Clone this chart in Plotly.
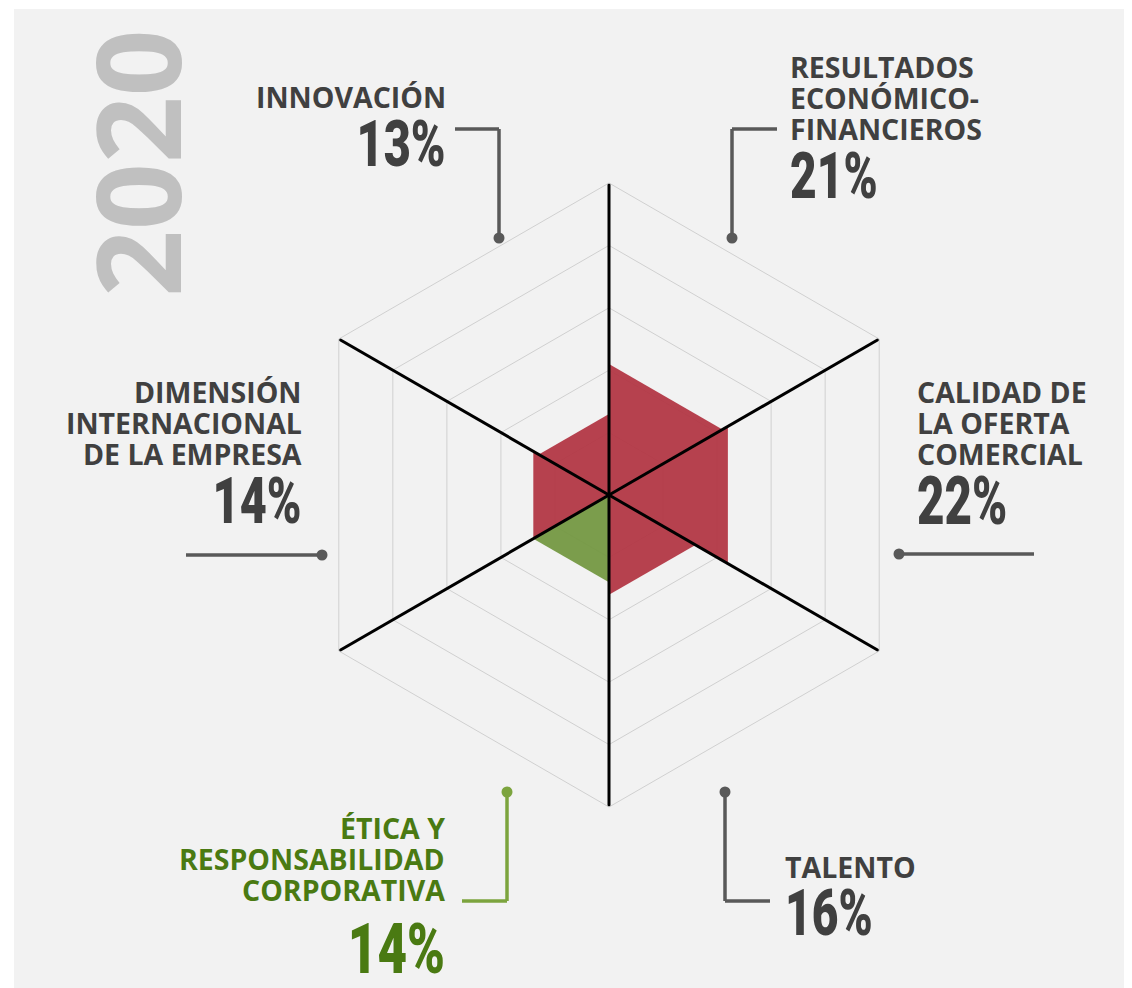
import plotly.graph_objects as go

# ---------------- data ----------------
axis_ids = ["a0", "a1", "a2", "a3", "a4", "a5"]  # clockwise from top
categories = [
    "RESULTADOS ECONÓMICO-FINANCIEROS",
    "CALIDAD DE LA OFERTA COMERCIAL",
    "TALENTO",
    "ÉTICA Y RESPONSABILIDAD CORPORATIVA",
    "DIMENSIÓN INTERNACIONAL DE LA EMPRESA",
    "INNOVACIÓN",
]
values = [21, 22, 16, 14, 14, 13]
label_lines = [
    ["RESULTADOS", "ECONÓMICO-", "FINANCIEROS"],
    ["CALIDAD DE", "LA OFERTA", "COMERCIAL"],
    ["TALENTO"],
    ["ÉTICA Y", "RESPONSABILIDAD", "CORPORATIVA"],
    ["DIMENSIÓN", "INTERNACIONAL", "DE LA EMPRESA"],
    ["INNOVACIÓN"],
]
highlight = "ÉTICA Y RESPONSABILIDAD CORPORATIVA"
year_label = "2020"
r_max = 50

# ---------------- style ----------------
W, H = 1132, 988
OFF = 8  # page body margin
RED = "rgba(178,52,66,0.93)"
GREEN = "rgba(116,152,66,0.95)"
TXT = "#404040"
TXT_GREEN = "#4A7A12"
LINE_GRAY = "#595959"
LINE_GREEN = "#7CA43E"
PANEL = "#F2F2F2"
LABEL_FONT = "Open Sans"
PCT_FONT = "Roboto"
PCT_SCALE = 0.72


def px(x):
    return (x - OFF) / W


def py(y):
    return 1 - (y - OFF) / H


fig = go.Figure()

# sectors
for k, (cat, v) in enumerate(zip(categories, values)):
    a_from = axis_ids[k]
    a_to = axis_ids[(k + 1) % 6]
    fig.add_trace(go.Scatterpolar(
        r=[0, v, v, 0],
        theta=[a_from, a_from, a_to, a_from],
        mode="lines",
        fill="toself",
        fillcolor=GREEN if cat == highlight else RED,
        line=dict(width=0, color="rgba(0,0,0,0)"),
        name=cat,
        hoverinfo="skip",
        showlegend=False,
    ))

# black spokes on top
spoke_r, spoke_t = [], []
for a in axis_ids:
    spoke_r += [0, r_max, None]
    spoke_t += [a, a, None]
fig.add_trace(go.Scatterpolar(
    r=spoke_r, theta=spoke_t, mode="lines",
    line=dict(color="black", width=3),
    hoverinfo="skip", showlegend=False, connectgaps=False,
))

cx0, cx1 = 297, 921
cy0, cy1 = 183, 807
fig.update_layout(
    width=W, height=H,
    margin=dict(l=0, r=0, t=0, b=0),
    paper_bgcolor="white",
    plot_bgcolor="rgba(0,0,0,0)",
    showlegend=False,
    polar=dict(
        domain=dict(x=[px(cx0), px(cx1)], y=[py(cy1), py(cy0)]),
        bgcolor="rgba(0,0,0,0)",
        gridshape="linear",
        radialaxis=dict(range=[0, r_max], dtick=10, showticklabels=False,
                        ticks="", showline=False, gridcolor="#D0D0D0",
                        gridwidth=1),
        angularaxis=dict(type="category", categoryarray=axis_ids,
                         direction="clockwise", rotation=90,
                         showticklabels=False, ticks="",
                         showgrid=False, showline=True,
                         linecolor="#D0D0D0", linewidth=1),
    ),
)

shapes = [dict(type="rect", xref="paper", yref="paper",
               x0=px(14), x1=1.05, y0=-0.05, y1=py(9),
               fillcolor=PANEL, line=dict(width=0), layer="below")]


def seg(points, color):
    for (xa, ya), (xb, yb) in zip(points[:-1], points[1:]):
        shapes.append(dict(type="line", xref="paper", yref="paper",
                           x0=px(xa), y0=py(ya), x1=px(xb), y1=py(yb),
                           line=dict(color=color, width=3.5)))


def dot(x, y, color, rad=5.5):
    shapes.append(dict(type="circle", xref="paper", yref="paper",
                       x0=px(x - rad), x1=px(x + rad),
                       y0=py(y + rad), y1=py(y - rad),
                       fillcolor=color, line=dict(width=0)))


# callouts (pixel layout)
callouts = {
    0: ([(777, 129), (732, 129), (732, 238)], (732, 238)),
    1: ([(899, 554), (1034, 554)], (899, 554)),
    2: ([(725, 792), (725, 901), (770, 901)], (725, 792)),
    3: ([(507, 792), (507, 901), (462, 901)], (507, 792)),
    4: ([(186, 555), (322, 555)], (322, 555)),
    5: ([(455, 129), (499, 129), (499, 238)], (499, 238)),
}
for k, (pts, d) in callouts.items():
    col = LINE_GREEN if categories[k] == highlight else LINE_GRAY
    seg(pts, col)
    dot(d[0], d[1], col)

# label layout: x anchor px, align, first-line cap center y, line pitch, pct center y, pct size
label_layout = {
    0: (788, "left", 67, 31, 176, 64),
    1: (915, "left", 392, 31, 501, 66),
    2: (783, "left", 867, 31, 913, 64),
    3: (447, "right", 828, 31, 948, 71),
    4: (304, "right", 392, 31, 501, 65),
    5: (448, "right", 97, 31, 144, 65),
}
annotations = []
for k, cat in enumerate(categories):
    x, al, y0, pitch, ypct, psize = label_layout[k]
    col = TXT_GREEN if cat == highlight else TXT
    for i, line in enumerate(label_lines[k]):
        annotations.append(dict(
            xref="paper", yref="paper", x=px(x), y=py(y0 + i * pitch),
            xanchor=al, yanchor="middle", showarrow=False, text=line,
            font=dict(family=LABEL_FONT, size=28.5, color=col, weight=700),
        ))
    annotations.append(dict(
        name="pct",
        xref="paper", yref="paper", x=px(x), y=py(ypct),
        xanchor=al, yanchor="middle", showarrow=False,
        text=f"{values[k]}%",
        font=dict(family=PCT_FONT, size=psize, color=col, weight=900),
    ))

annotations.append(dict(
    xref="paper", yref="paper", x=px(135), y=py(163),
    xanchor="center", yanchor="middle", showarrow=False,
    text=year_label, textangle=-90,
    font=dict(family="Open Sans", size=117, color="#C0C0C0", weight=700),
))

fig.update_layout(shapes=shapes, annotations=annotations)

# condense the percentage figures horizontally (narrow display face look)
post_js = """
var gd = document.getElementById('{plot_id}');
var anns = gd.layout.annotations || [];
gd.querySelectorAll('g.annotation').forEach(function(g){
  var i = parseInt(g.getAttribute('data-index'));
  var a = anns[i];
  if (!a || a.name !== 'pct') return;
  var t = g.querySelector('text.annotation-text');
  if (!t) return;
  var bb = t.getBBox();
  var p = bb.x + bb.width / 2;
  if (a.xanchor === 'left') p = bb.x;
  if (a.xanchor === 'right') p = bb.x + bb.width;
  t.setAttribute('transform', 'translate(' + p + ',0) scale(SCALE,1) translate(' + (-p) + ',0)');
});
""".replace("SCALE", str(PCT_SCALE))

fig.write_html("out.html", post_script=post_js)
